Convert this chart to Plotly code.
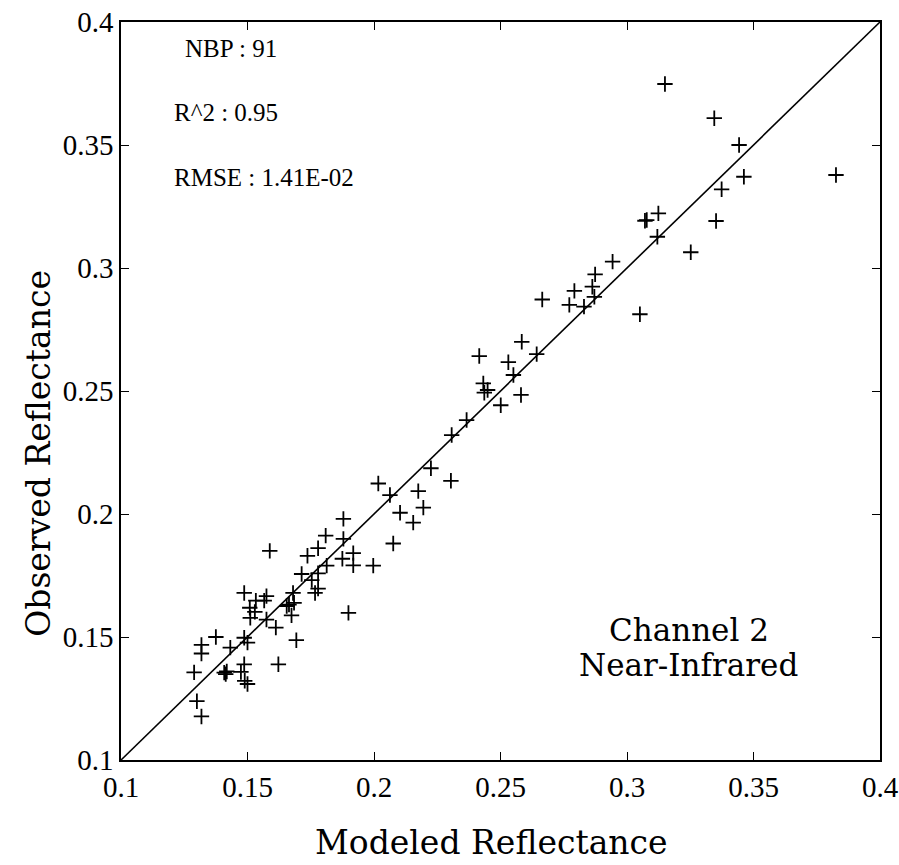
import plotly.graph_objects as go

# Modeled vs observed reflectance, channel 2 (near-infrared)
modeled = [
    0.1879, 0.1809, 0.1879, 0.1588, 0.1779, 0.1918, 0.2076, 0.1737, 0.1875, 0.1918,
    0.1997, 0.1813, 0.1714, 0.1779, 0.1754, 0.1779, 0.1767, 0.1487, 0.1680, 0.1575,
    0.1566, 0.1533, 0.1509, 0.1529, 0.1511, 0.1664, 0.1684, 0.1674, 0.1575, 0.1899,
    0.1612, 0.1375, 0.1487, 0.1500, 0.1318, 0.1432, 0.1318, 0.1693, 0.1289, 0.1487,
    0.1418, 0.1414, 0.1474, 0.1622, 0.1489, 0.1500, 0.1300, 0.1318, 0.1408, 0.1655,
    0.2432, 0.2436, 0.2449, 0.2581, 0.2501, 0.2366, 0.2307, 0.2225, 0.2304, 0.2017,
    0.2063, 0.2175, 0.2195, 0.2103, 0.2155,
    0.3150, 0.3345, 0.3443, 0.3826, 0.3462, 0.3374, 0.3124, 0.3078, 0.3071, 0.3352,
    0.3120, 0.3252, 0.2943, 0.2874, 0.2792, 0.2863, 0.2871, 0.2772, 0.2830, 0.3051,
    0.2665, 0.2584, 0.2643, 0.2416, 0.2531, 0.2551,
]
observed = [
    0.1980, 0.1912, 0.1899, 0.1850, 0.1861, 0.1841, 0.1880, 0.1830, 0.1818, 0.1791,
    0.1790, 0.1790, 0.1756, 0.1759, 0.1731, 0.1697, 0.1679, 0.1679, 0.1679, 0.1666,
    0.1648, 0.1648, 0.1619, 0.1602, 0.1578, 0.1632, 0.1639, 0.1588, 0.1571, 0.1598,
    0.1538, 0.1500, 0.1497, 0.1477, 0.1468, 0.1457, 0.1433, 0.1487, 0.1356, 0.1389,
    0.1360, 0.1349, 0.1358, 0.1389, 0.1322, 0.1309, 0.1239, 0.1177, 0.1355, 0.1626,
    0.2531, 0.2493, 0.2504, 0.2484, 0.2442, 0.2382, 0.2321, 0.2186, 0.2135, 0.2124,
    0.2077, 0.2093, 0.2026, 0.2005, 0.1965,
    0.3748, 0.3609, 0.3500, 0.3378, 0.3371, 0.3320, 0.3222, 0.3195, 0.3192, 0.3191,
    0.3127, 0.3064, 0.3026, 0.2974, 0.2907, 0.2924, 0.2883, 0.2850, 0.2843, 0.2812,
    0.2872, 0.2700, 0.2650, 0.2642, 0.2617, 0.2565,
]

# 1:1 reference line
one_to_one = [0.1, 0.4]

tick_vals = [0.1, 0.15, 0.2, 0.25, 0.3, 0.35, 0.4]
tick_text = ["0.1", "0.15", "0.2", "0.25", "0.3", "0.35", "0.4"]

stats_lines = ["NBP : 91", "R^2 : 0.95", "RMSE : 1.41E-02"]
channel_lines = ["Channel 2", "Near-Infrared"]
x_title = "Modeled Reflectance"
y_title = "Observed Reflectance"

serif = "Liberation Serif, Times New Roman, serif"
title_font = "DejaVu Serif, serif"

fig = go.Figure()
fig.add_trace(go.Scatter(
    x=one_to_one, y=one_to_one, mode="lines",
    line=dict(color="black", width=1.6), hoverinfo="skip", showlegend=False,
))
fig.add_trace(go.Scatter(
    x=modeled, y=observed, mode="markers",
    marker=dict(symbol="cross-thin", size=11, line=dict(color="black", width=1.8)),
    showlegend=False,
))

axis_common = dict(
    range=[0.1, 0.4], tickmode="array", tickvals=tick_vals, ticktext=tick_text,
    ticks="inside", ticklen=8, tickwidth=1.3, tickcolor="black",
    showline=True, linecolor="black", linewidth=1.6, mirror="ticks",
    showgrid=False, zeroline=False, automargin=False,
    tickfont=dict(family=serif, size=29, color="black"),
)
fig.update_xaxes(**axis_common)
fig.update_yaxes(**axis_common)

# axis titles as free annotations so they can sit slightly off-centre
fig.add_annotation(
    x=0.4875, y=-0.112, xref="paper", yref="paper", text=x_title, showarrow=False,
    xanchor="center", yanchor="middle",
    font=dict(family=title_font, size=33, color="black"),
)
fig.add_annotation(
    x=-0.108, y=0.415, xref="paper", yref="paper", text=y_title, showarrow=False,
    xanchor="center", yanchor="middle", textangle=-90,
    font=dict(family=title_font, size=33, color="black"),
)

stat_y = [0.3894, 0.3634, 0.3366]
stat_x = [0.1245, 0.1202, 0.1202]
for txt, sx, sy in zip(stats_lines, stat_x, stat_y):
    fig.add_annotation(
        x=sx, y=sy, xref="x", yref="y", text=txt, showarrow=False,
        xanchor="left", yanchor="middle",
        font=dict(family=serif, size=25, color="black"),
    )

channel_y = [0.1530, 0.1385]
for txt, cy in zip(channel_lines, channel_y):
    fig.add_annotation(
        x=0.3245, y=cy, xref="x", yref="y", text=txt, showarrow=False,
        xanchor="center", yanchor="middle",
        font=dict(family=title_font, size=31, color="black"),
    )

fig.update_layout(
    width=899, height=865,
    margin=dict(l=121, r=19, t=22, b=105),
    paper_bgcolor="white", plot_bgcolor="white",
)

fig.write_html("out.html")
